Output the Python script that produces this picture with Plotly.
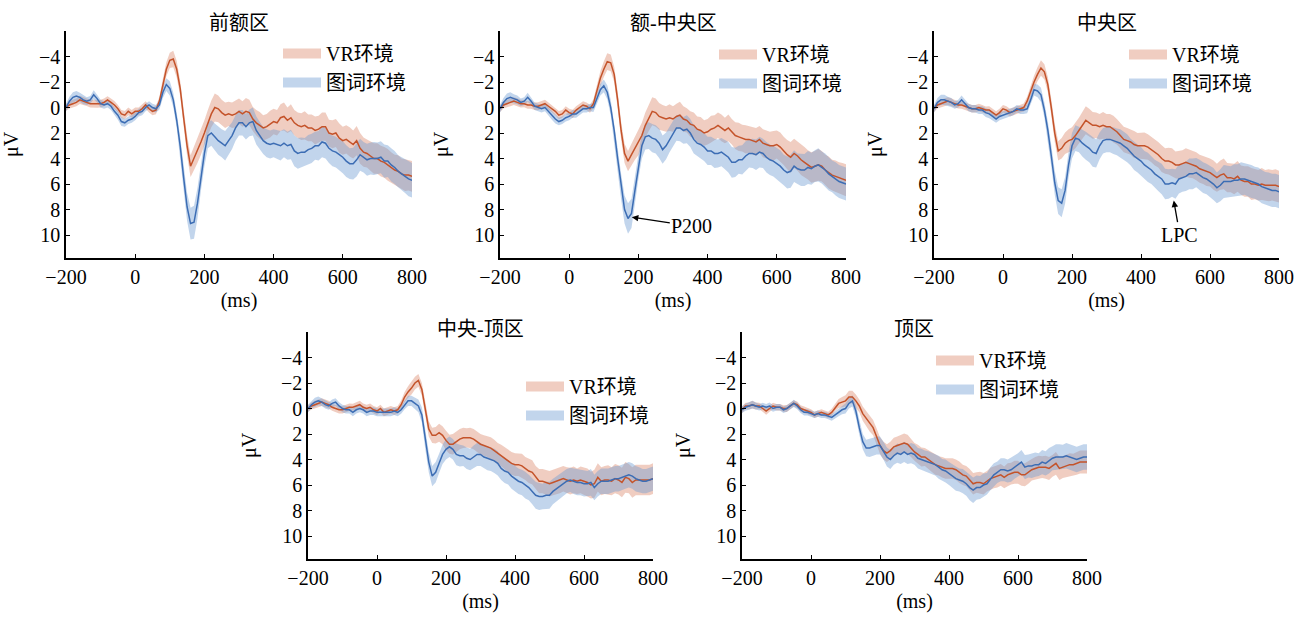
import plotly.graph_objects as go

# ---------------- data ----------------
times = list(range(-200, 801, 10))
panel_titles = ["前额区", "额-中央区", "中央区", "中央-顶区", "顶区"]
series_names = ["VR环境", "图词环境"]
x_ticks = [-200, 0, 200, 400, 600, 800]
y_ticks = [-4, -2, 0, 2, 4, 6, 8, 10]

# 前额区
fp_vr = [0, -0.2, -0.3, -0.4, -0.6, -0.5, -0.4, -0.3, -0.3, -0.3,
         -0.3, -0.4, -0.6, -0.4, -0.2, 0.1, 0.5, 0.6, 0.3, 0.5,
         0.3, 0.3, 0.1, -0.2, 0.1, 0.3, 0.2, -0.5, -1.8, -3.0,
         -3.7, -3.8, -3.0, -1.5, 0.8, 3.0, 4.6, 4.0, 3.4, 2.7,
         2.0, 1.2, 0.5, 0.0, 0.1, 0.4, 0.6, 0.5, 0.6, 0.5,
         0.3, 0.5, 0.3, 0.4, 0.9, 1.2, 1.4, 1.6, 1.5, 1.3,
         1.1, 1.2, 0.8, 0.7, 1.0, 0.8, 1.2, 1.4, 1.5, 1.4,
         1.6, 1.6, 1.8, 1.7, 1.5, 1.5, 2.0, 2.1, 2.0, 2.4,
         2.6, 2.5, 2.7, 2.9, 2.6, 3.2, 3.5, 3.6, 3.8, 4.0,
         4.0, 4.2, 4.3, 4.5, 4.7, 4.9, 5.0, 5.2, 5.3, 5.3,
         5.4]
fp_vr_se = [0.25, 0.28, 0.3, 0.3, 0.32, 0.3, 0.28, 0.3, 0.3, 0.32,
            0.3, 0.3, 0.28, 0.3, 0.32, 0.3, 0.3, 0.32, 0.3, 0.3,
            0.3, 0.3, 0.32, 0.3, 0.3, 0.3, 0.32, 0.35, 0.45, 0.55,
            0.6, 0.65, 0.65, 0.6, 0.7, 0.8, 0.85, 0.9, 0.95, 1.0,
            1.0, 1.0, 1.05, 1.1, 1.05, 1.0, 1.0, 0.95, 1.0, 1.05,
            1.0, 1.0, 1.05, 1.0, 0.95, 1.0, 1.05, 1.0, 1.0, 1.05,
            1.0, 1.0, 1.05, 1.1, 1.0, 1.05, 1.0, 1.0, 1.05, 1.1,
            1.05, 1.05, 1.1, 1.05, 1.1, 1.1, 1.05, 1.1, 1.1, 1.15,
            1.1, 1.1, 1.15, 1.1, 1.15, 1.2, 1.15, 1.1, 1.15, 1.2,
            1.2, 1.2, 1.2, 1.25, 1.2, 1.2, 1.25, 1.2, 1.25, 1.2,
            1.2]
fp_pw = [0, -0.5, -0.8, -0.9, -0.8, -0.6, -0.5, -0.6, -1.0, -0.7,
         -0.3, -0.2, -0.3, -0.1, 0.3, 0.6, 1.1, 1.2, 1.0, 0.9,
         0.7, 0.4, 0.3, 0.0, -0.2, 0.0, 0.1, -0.2, -1.2, -1.8,
         -1.5, -0.6, 1.0, 3.0, 5.5, 7.8, 9.1, 9.0, 7.5, 5.4,
         3.6, 2.2, 2.0, 2.3, 2.6, 2.8, 3.0, 2.6, 2.2, 1.6,
         1.2, 1.2, 1.5, 1.2, 1.1, 1.8, 2.2, 2.6, 2.8, 2.9,
         2.8, 2.9, 3.0, 2.8, 3.0, 2.9, 3.4, 3.6, 3.5, 3.5,
         3.3, 3.2, 3.0, 3.0, 2.7, 2.8, 3.2, 3.4, 3.5, 3.7,
         3.9, 4.2, 4.4, 4.4, 4.1, 3.7, 3.9, 4.1, 4.0, 4.0,
         4.0, 3.9, 4.2, 4.2, 4.5, 4.7, 5.0, 5.2, 5.4, 5.6,
         5.7]
fp_pw_se = [0.3, 0.35, 0.4, 0.4, 0.35, 0.35, 0.3, 0.3, 0.35, 0.3,
            0.3, 0.3, 0.3, 0.3, 0.3, 0.35, 0.35, 0.3, 0.3, 0.3,
            0.3, 0.3, 0.3, 0.3, 0.3, 0.3, 0.3, 0.35, 0.45, 0.5,
            0.55, 0.55, 0.6, 0.7, 0.9, 1.1, 1.25, 1.3, 1.2, 1.1,
            1.0, 1.0, 1.0, 1.05, 1.1, 1.1, 1.15, 1.1, 1.05, 1.0,
            1.0, 1.0, 1.0, 1.05, 1.1, 1.1, 1.1, 1.05, 1.1, 1.1,
            1.1, 1.1, 1.15, 1.1, 1.1, 1.15, 1.2, 1.2, 1.15, 1.1,
            1.15, 1.15, 1.1, 1.15, 1.2, 1.2, 1.15, 1.2, 1.2, 1.2,
            1.25, 1.25, 1.2, 1.25, 1.3, 1.25, 1.2, 1.25, 1.25, 1.3,
            1.25, 1.25, 1.3, 1.25, 1.3, 1.3, 1.25, 1.3, 1.3, 1.35,
            1.35]

# 额-中央区
fc_vr = [0.1, -0.2, -0.3, -0.4, -0.5, -0.4, -0.3, -0.3, -0.2, -0.2,
         -0.1, -0.1, -0.2, -0.3, -0.1, 0.1, 0.3, 0.6, 0.5, 0.2,
         0.4, 0.5, 0.2, 0.0, -0.2, -0.1, 0.1, -0.3, -1.4, -2.3,
         -3.0, -3.6, -3.5, -2.6, -0.6, 1.8, 3.6, 4.2, 3.7, 3.2,
         2.8, 2.2, 1.4, 0.8, 0.3, 0.4, 0.7, 0.8, 0.9, 0.8,
         0.9, 0.7, 0.6, 0.9, 1.0, 1.3, 1.4, 1.7, 1.8, 2.0,
         1.9, 1.7, 1.6, 1.4, 1.6, 1.8, 1.6, 1.9, 2.2, 2.3,
         2.4, 2.5, 2.5, 2.6, 2.7, 2.5, 2.8, 2.9, 3.0, 3.0,
         2.9, 3.1, 3.4, 3.7, 3.9, 3.6, 3.8, 4.1, 4.3, 4.5,
         4.7, 4.6, 4.5, 4.6, 4.9, 5.1, 5.3, 5.4, 5.5, 5.6,
         5.7]
fc_vr_se = [0.25, 0.28, 0.3, 0.3, 0.3, 0.32, 0.3, 0.28, 0.3, 0.3,
            0.3, 0.32, 0.3, 0.3, 0.3, 0.28, 0.3, 0.32, 0.3, 0.3,
            0.3, 0.32, 0.3, 0.3, 0.3, 0.3, 0.32, 0.35, 0.45, 0.55,
            0.6, 0.65, 0.65, 0.6, 0.65, 0.7, 0.75, 0.8, 0.85, 0.9,
            0.95, 1.0, 1.0, 1.05, 1.1, 1.1, 1.05, 1.0, 1.0, 1.05,
            1.0, 1.0, 1.05, 1.0, 0.95, 1.0, 1.0, 1.0, 1.05, 1.0,
            1.0, 1.05, 1.0, 1.0, 1.05, 1.0, 1.05, 1.0, 1.05, 1.1,
            1.05, 1.1, 1.05, 1.1, 1.1, 1.05, 1.1, 1.1, 1.1, 1.15,
            1.1, 1.15, 1.1, 1.15, 1.2, 1.15, 1.15, 1.2, 1.2, 1.15,
            1.2, 1.2, 1.25, 1.2, 1.2, 1.25, 1.2, 1.25, 1.2, 1.25,
            1.25]
fc_pw = [0.1, -0.4, -0.7, -0.8, -0.7, -0.6, -0.4, -0.5, -0.8, -0.5,
         -0.1, 0.0, 0.1, 0.0, 0.3, 0.6, 0.9, 1.1, 1.0, 0.8,
         0.7, 0.5, 0.5, 0.3, 0.1, 0.1, 0.0, 0.0, -0.7, -1.4,
         -1.7, -1.2, 0.0, 1.8, 4.0, 6.2, 8.0, 8.7, 8.3, 6.5,
         4.6, 3.0, 2.3, 2.2, 2.4, 2.5, 2.8, 3.3, 3.0, 2.5,
         2.0, 1.6, 1.6, 1.8, 1.7, 2.0, 2.5, 2.8, 2.9, 3.1,
         3.4, 3.4, 3.6, 3.6, 3.5, 3.7, 3.9, 4.3, 4.3, 4.1,
         4.1, 3.8, 3.6, 3.6, 3.7, 3.5, 3.6, 3.9, 4.1, 4.2,
         4.4, 4.6, 4.9, 5.1, 5.0, 4.6, 4.8, 4.9, 4.9, 4.7,
         4.8, 4.6, 4.5, 4.7, 4.9, 5.2, 5.4, 5.6, 5.8, 5.9,
         6.0]
fc_pw_se = [0.3, 0.35, 0.4, 0.4, 0.35, 0.35, 0.3, 0.3, 0.35, 0.3,
            0.3, 0.3, 0.3, 0.3, 0.3, 0.35, 0.35, 0.3, 0.3, 0.3,
            0.3, 0.3, 0.3, 0.3, 0.3, 0.3, 0.3, 0.35, 0.4, 0.45,
            0.5, 0.55, 0.6, 0.7, 0.85, 1.0, 1.1, 1.2, 1.15, 1.1,
            1.0, 1.0, 1.0, 1.05, 1.1, 1.1, 1.15, 1.1, 1.05, 1.0,
            1.0, 1.0, 1.05, 1.05, 1.1, 1.1, 1.1, 1.05, 1.1, 1.1,
            1.1, 1.1, 1.15, 1.1, 1.1, 1.15, 1.2, 1.2, 1.15, 1.1,
            1.15, 1.15, 1.1, 1.15, 1.2, 1.2, 1.15, 1.2, 1.2, 1.2,
            1.25, 1.25, 1.2, 1.25, 1.3, 1.25, 1.2, 1.25, 1.25, 1.3,
            1.25, 1.25, 1.3, 1.25, 1.3, 1.3, 1.25, 1.3, 1.3, 1.3,
            1.3]

# 中央区
c_vr = [0.1, -0.2, -0.3, -0.4, -0.5, -0.4, -0.3, -0.2, -0.2, -0.1,
        0.0, 0.1, 0.1, 0.0, 0.1, 0.2, 0.2, 0.4, 0.6, 0.4,
        0.1, 0.2, 0.4, 0.3, 0.2, 0.1, 0.0, -0.5, -1.3, -2.0,
        -2.6, -3.1, -2.8, -1.8, 0.0, 2.0, 3.4, 3.2, 2.8, 2.6,
        2.5, 2.2, 1.8, 1.4, 1.0, 1.2, 1.4, 1.4, 1.5, 1.4,
        1.5, 1.5, 1.7, 1.9, 2.2, 2.5, 2.6, 2.7, 2.9, 3.0,
        3.0, 3.0, 3.1, 3.3, 3.5, 3.7, 4.0, 4.2, 4.2, 4.3,
        4.5, 4.5, 4.4, 4.3, 4.4, 4.5, 4.6, 4.8, 4.9, 5.0,
        5.1, 5.3, 5.5, 5.3, 5.2, 5.5, 5.5, 5.6, 5.4, 5.7,
        5.8, 5.8, 6.0, 6.0, 6.1, 6.0, 6.1, 6.1, 6.1, 6.1,
        6.2]
c_vr_se = [0.25, 0.28, 0.3, 0.3, 0.3, 0.32, 0.3, 0.28, 0.3, 0.3,
           0.3, 0.3, 0.3, 0.3, 0.3, 0.28, 0.3, 0.32, 0.3, 0.3,
           0.3, 0.3, 0.3, 0.3, 0.3, 0.3, 0.32, 0.35, 0.45, 0.5,
           0.55, 0.6, 0.6, 0.6, 0.65, 0.7, 0.75, 0.8, 0.85, 0.9,
           0.95, 1.0, 1.0, 1.05, 1.1, 1.1, 1.05, 1.0, 1.0, 1.05,
           1.0, 1.0, 1.05, 1.0, 1.0, 1.0, 1.0, 1.0, 1.05, 1.0,
           1.0, 1.05, 1.0, 1.0, 1.05, 1.0, 1.05, 1.0, 1.05, 1.1,
           1.05, 1.1, 1.05, 1.1, 1.1, 1.05, 1.1, 1.1, 1.1, 1.15,
           1.1, 1.15, 1.1, 1.15, 1.2, 1.15, 1.15, 1.2, 1.2, 1.15,
           1.2, 1.2, 1.25, 1.2, 1.2, 1.25, 1.2, 1.25, 1.2, 1.25,
           1.25]
c_pw = [0.1, -0.4, -0.6, -0.6, -0.5, -0.4, -0.2, -0.3, -0.6, -0.3,
        0.0, 0.1, 0.1, 0.2, 0.2, 0.4, 0.5, 0.7, 0.9, 0.7,
        0.6, 0.5, 0.4, 0.3, 0.1, 0.2, 0.2, 0.1, -0.6, -1.4,
        -1.3, -1.0, 0.2, 1.8, 3.8, 5.9, 7.3, 7.5, 6.5, 4.5,
        3.0, 2.4, 2.5, 2.8, 3.0, 3.2, 3.5, 3.6, 3.0, 2.6,
        2.5, 2.5, 2.6, 2.7, 2.8, 3.0, 3.2, 3.5, 3.8, 4.0,
        4.2, 4.5, 4.7, 4.9, 5.2, 5.4, 5.6, 6.0, 6.0, 5.9,
        6.0, 5.6, 5.5, 5.4, 5.2, 5.2, 5.1, 5.3, 5.5, 5.6,
        5.8, 6.0, 6.3, 6.1, 5.8, 5.8, 5.8, 5.7, 5.7, 5.6,
        5.6, 5.7, 5.8, 5.9, 6.0, 6.2, 6.3, 6.4, 6.5, 6.5,
        6.6]
c_pw_se = [0.3, 0.35, 0.4, 0.4, 0.35, 0.35, 0.3, 0.3, 0.35, 0.3,
           0.3, 0.3, 0.3, 0.3, 0.3, 0.35, 0.35, 0.3, 0.3, 0.3,
           0.3, 0.3, 0.3, 0.3, 0.3, 0.3, 0.3, 0.35, 0.4, 0.45,
           0.5, 0.55, 0.6, 0.7, 0.85, 0.95, 1.05, 1.1, 1.05, 1.0,
           1.0, 1.0, 1.0, 1.05, 1.1, 1.1, 1.15, 1.1, 1.05, 1.0,
           1.0, 1.0, 1.05, 1.05, 1.1, 1.1, 1.1, 1.05, 1.1, 1.1,
           1.1, 1.1, 1.15, 1.1, 1.1, 1.15, 1.2, 1.2, 1.15, 1.1,
           1.15, 1.15, 1.1, 1.15, 1.2, 1.2, 1.15, 1.2, 1.2, 1.2,
           1.25, 1.25, 1.2, 1.25, 1.3, 1.25, 1.2, 1.25, 1.25, 1.3,
           1.25, 1.25, 1.3, 1.25, 1.3, 1.3, 1.25, 1.3, 1.3, 1.3,
           1.3]

# 中央-顶区
cp_vr = [0.0, -0.2, -0.3, -0.4, -0.5, -0.4, -0.3, -0.1, 0.0, 0.1,
         0.1, 0.0, -0.1, -0.1, -0.2, -0.3, -0.1, 0.0, -0.1, 0.1,
         0.2, 0.0, 0.3, 0.2, 0.1, 0.2, 0.1, -0.3, -0.9, -1.3,
         -1.6, -2.0, -2.2, -1.5, 0.0, 1.6, 2.1, 2.1, 1.9, 2.1,
         2.5, 2.8, 2.8, 2.6, 2.4, 2.3, 2.3, 2.3, 2.4, 2.6,
         2.8, 2.9, 3.0, 3.1, 3.3, 3.5, 3.7, 3.9, 4.1, 4.3,
         4.4, 4.4, 4.5, 4.7, 4.9, 5.0, 5.4, 5.7, 5.7, 5.8,
         5.9, 5.8, 5.7, 5.6, 5.5, 5.6, 5.7, 5.6, 5.7, 5.6,
         5.7, 5.8, 6.0, 5.9, 5.4, 5.7, 5.6, 5.6, 5.7, 5.5,
         5.6, 5.8, 5.4, 5.5, 5.8, 5.6, 5.6, 5.6, 5.6, 5.6,
         5.5]
cp_vr_se = [0.25, 0.28, 0.3, 0.3, 0.3, 0.3, 0.3, 0.28, 0.3, 0.3,
            0.3, 0.3, 0.3, 0.28, 0.3, 0.3, 0.3, 0.3, 0.3, 0.3,
            0.3, 0.3, 0.3, 0.3, 0.3, 0.3, 0.3, 0.32, 0.4, 0.45,
            0.5, 0.5, 0.5, 0.5, 0.55, 0.6, 0.6, 0.65, 0.7, 0.7,
            0.75, 0.75, 0.8, 0.8, 0.8, 0.8, 0.75, 0.8, 0.8, 0.8,
            0.8, 0.8, 0.8, 0.85, 0.85, 0.8, 0.85, 0.85, 0.9, 0.9,
            0.9, 0.9, 0.95, 0.9, 0.95, 0.95, 0.9, 0.95, 0.95, 1.0,
            1.0, 1.0, 1.0, 1.05, 1.0, 1.0, 1.05, 1.05, 1.0, 1.05,
            1.05, 1.1, 1.05, 1.1, 1.1, 1.1, 1.1, 1.15, 1.1, 1.15,
            1.15, 1.15, 1.2, 1.15, 1.2, 1.2, 1.2, 1.2, 1.2, 1.2,
            1.2]
cp_pw = [0.0, -0.3, -0.5, -0.6, -0.5, -0.3, -0.2, -0.4, -0.5, -0.2,
         0.0, 0.1, 0.1, 0.3, 0.1, 0.0, 0.1, 0.3, 0.2, 0.2,
         0.3, 0.3, 0.3, 0.3, 0.3, 0.2, 0.3, 0.1, -0.3, -0.6,
         -0.6, -0.4, -0.2, 0.5, 2.5, 4.2, 5.3, 5.0, 4.3, 3.6,
         3.2, 3.0, 3.2, 3.6, 3.7, 3.7, 3.9, 4.0, 3.8, 3.6,
         3.6, 3.8, 3.9, 4.0, 4.1, 4.3, 4.7, 4.9, 5.0, 5.3,
         5.5, 5.7, 5.8, 6.0, 6.2, 6.5, 6.8, 6.9, 6.9, 6.8,
         6.8, 6.5, 6.3, 6.1, 5.9, 5.7, 5.6, 5.7, 5.8, 5.8,
         5.9, 5.9, 5.8, 6.2, 5.9, 5.7, 5.7, 5.7, 5.6, 5.5,
         5.5, 5.4, 5.3, 5.2, 5.3, 5.5, 5.6, 5.7, 5.7, 5.6,
         5.5]
cp_pw_se = [0.3, 0.3, 0.35, 0.35, 0.3, 0.3, 0.3, 0.3, 0.3, 0.3,
            0.3, 0.3, 0.3, 0.3, 0.3, 0.3, 0.3, 0.3, 0.3, 0.3,
            0.3, 0.3, 0.3, 0.3, 0.3, 0.3, 0.3, 0.32, 0.35, 0.4,
            0.4, 0.45, 0.5, 0.6, 0.7, 0.8, 0.8, 0.8, 0.75, 0.75,
            0.8, 0.8, 0.8, 0.85, 0.85, 0.8, 0.85, 0.85, 0.9, 0.9,
            0.9, 0.9, 0.95, 0.9, 0.95, 0.95, 0.9, 0.95, 0.95, 1.0,
            1.0, 1.0, 1.0, 1.05, 1.0, 1.0, 1.05, 1.05, 1.0, 1.05,
            1.05, 1.0, 1.0, 1.0, 0.95, 0.95, 0.95, 1.0, 1.0, 1.0,
            1.0, 1.0, 1.05, 1.0, 1.0, 1.0, 1.0, 1.0, 1.0, 1.0,
            1.0, 1.0, 1.0, 1.0, 1.0, 1.0, 1.0, 0.95, 0.95, 0.95,
            0.95]

# 顶区
p_vr = [0.1, -0.2, -0.2, -0.3, -0.2, -0.2, 0.0, 0.2, 0.0, -0.2,
        -0.1, -0.1, 0.0, 0.0, -0.2, -0.4, -0.3, 0.0, 0.1, 0.2,
        0.3, 0.5, 0.4, 0.3, 0.4, 0.5, 0.3, -0.1, -0.4, -0.5,
        -0.6, -0.9, -0.9, -0.6, -0.2, 0.4, 0.8, 1.2, 1.5, 2.2,
        2.9, 3.3, 3.5, 3.3, 3.0, 2.9, 2.8, 2.7, 2.8, 3.1,
        3.4, 3.6, 3.8, 3.8, 4.0, 4.2, 4.4, 4.5, 4.6, 4.7,
        4.7, 4.7, 4.8, 5.0, 5.2, 5.3, 5.6, 5.9, 5.8, 5.8,
        5.9, 5.7, 5.5, 5.4, 5.3, 5.2, 5.4, 5.2, 5.1, 5.0,
        5.0, 5.2, 5.2, 5.0, 4.8, 4.7, 4.6, 4.6, 4.6, 4.7,
        4.5, 4.3, 4.7, 4.6, 4.5, 4.4, 4.4, 4.3, 4.2, 4.2,
        4.2]
p_vr_se = [0.25, 0.25, 0.28, 0.3, 0.28, 0.25, 0.25, 0.28, 0.25, 0.25,
           0.25, 0.25, 0.25, 0.28, 0.25, 0.25, 0.25, 0.25, 0.25, 0.25,
           0.25, 0.25, 0.25, 0.25, 0.25, 0.25, 0.28, 0.3, 0.35, 0.4,
           0.45, 0.5, 0.5, 0.5, 0.5, 0.55, 0.6, 0.6, 0.6, 0.65,
           0.65, 0.7, 0.7, 0.7, 0.7, 0.7, 0.7, 0.75, 0.75, 0.7,
           0.7, 0.75, 0.75, 0.7, 0.75, 0.75, 0.8, 0.75, 0.8, 0.8,
           0.8, 0.8, 0.8, 0.85, 0.8, 0.8, 0.85, 0.85, 0.8, 0.85,
           0.85, 0.8, 0.85, 0.85, 0.9, 0.85, 0.85, 0.9, 0.85, 0.9,
           0.9, 0.85, 0.9, 0.9, 0.85, 0.9, 0.9, 0.85, 0.9, 0.9,
           0.85, 0.9, 0.9, 0.85, 0.9, 0.9, 0.85, 0.9, 0.9, 0.9,
           0.9]
p_pw = [0.1, -0.1, -0.2, -0.3, -0.2, -0.1, -0.2, -0.1, -0.2, 0.0,
        -0.1, -0.1, 0.1, 0.0, -0.2, -0.4, -0.2, 0.1, 0.3, 0.3,
        0.4, 0.5, 0.4, 0.5, 0.5, 0.6, 0.7, 0.5, 0.3, 0.1,
        0.0, -0.4, -0.6, 0.2, 1.5, 2.6, 3.1, 3.1, 3.0, 2.9,
        2.9, 3.3, 3.8, 4.0, 3.7, 3.5, 3.6, 3.4, 3.6, 3.5,
        3.6, 3.9, 4.0, 4.1, 4.2, 4.3, 4.4, 4.6, 4.8, 4.9,
        5.1, 5.3, 5.5, 5.6, 5.7, 5.9, 6.2, 6.4, 6.2, 6.2,
        6.0, 5.9, 5.5, 5.2, 5.0, 4.8, 4.8, 4.9, 4.8, 4.6,
        4.4, 4.2, 4.6, 4.5, 4.5, 4.4, 4.4, 4.2, 4.3, 4.1,
        3.9, 3.8, 3.8, 3.8, 3.7, 3.8, 3.9, 4.0, 3.9, 3.8,
        3.8]
p_pw_se = [0.25, 0.28, 0.3, 0.3, 0.28, 0.25, 0.25, 0.25, 0.28, 0.25,
           0.25, 0.25, 0.25, 0.25, 0.25, 0.28, 0.25, 0.25, 0.25, 0.25,
           0.25, 0.25, 0.25, 0.25, 0.25, 0.25, 0.25, 0.28, 0.3, 0.35,
           0.4, 0.4, 0.45, 0.5, 0.55, 0.6, 0.65, 0.7, 0.7, 0.7,
           0.7, 0.7, 0.75, 0.75, 0.7, 0.75, 0.75, 0.8, 0.75, 0.8,
           0.8, 0.8, 0.85, 0.8, 0.85, 0.85, 0.85, 0.9, 0.85, 0.9,
           0.9, 0.9, 0.95, 0.9, 0.95, 0.95, 1.0, 1.0, 0.95, 0.9,
           0.9, 0.85, 0.9, 0.9, 0.85, 0.9, 0.9, 0.9, 0.95, 0.9,
           0.9, 0.95, 0.95, 0.9, 0.95, 0.95, 0.9, 0.95, 0.95, 1.0,
           0.95, 1.0, 1.0, 0.95, 1.0, 1.0, 1.0, 1.0, 1.0, 1.0,
           1.0]

panels = [
    (fp_vr, fp_vr_se, fp_pw, fp_pw_se),
    (fc_vr, fc_vr_se, fc_pw, fc_pw_se),
    (c_vr, c_vr_se, c_pw, c_pw_se),
    (cp_vr, cp_vr_se, cp_pw, cp_pw_se),
    (p_vr, p_vr_se, p_pw, p_pw_se),
]

# ---------------- style / layout ----------------
W, H = 1306, 617
line_colors = ["#C4532A", "#3C6DB4"]
band_colors = ["rgba(218,130,100,0.4)", "rgba(110,155,210,0.42)"]
FONT = "Times New Roman, Liberation Serif, Noto Sans CJK SC, serif"
FS = 20

# plot-area boxes in pixels: (left, right, top, bottom)
boxes = [(66, 412, 31, 258), (500, 846, 31, 258), (934, 1279, 31, 258),
         (308, 653, 332, 559), (742, 1087, 332, 559)]
# legend top-left in pixels
legend_pos = [(278, 34), (714, 35), (1124, 35), (521, 367), (931, 341)]
title_shift = [9, 9, 9, 4, 4]

fig = go.Figure()
layout = dict(width=W, height=H, margin=dict(l=0, r=0, t=0, b=0, autoexpand=False),
              paper_bgcolor="white", plot_bgcolor="white",
              font=dict(family=FONT, size=FS, color="black"),
              showlegend=True, annotations=[])

for i, (vr, vr_se, pw, pw_se) in enumerate(panels):
    sfx = "" if i == 0 else str(i + 1)
    xa, ya = "x" + sfx, "y" + sfx
    leg = "legend" + sfx
    for j, (m, se) in enumerate([(vr, vr_se), (pw, pw_se)]):
        upper = [a - b for a, b in zip(m, se)]
        lower = [a + b for a, b in zip(m, se)]
        fig.add_trace(go.Scatter(
            x=times + times[::-1], y=upper + lower[::-1], fill="toself",
            fillcolor=band_colors[j], line=dict(width=0), mode="lines",
            hoverinfo="skip", showlegend=False, xaxis=xa, yaxis=ya))
    for j, m in enumerate([vr, pw]):
        fig.add_trace(go.Scatter(
            x=times, y=m, mode="lines", line=dict(color=line_colors[j], width=1.5),
            showlegend=False, xaxis=xa, yaxis=ya, name=series_names[j]))
    for j in range(2):
        fig.add_trace(go.Scatter(
            x=[None], y=[None], mode="lines", name=series_names[j],
            line=dict(color=band_colors[j], width=12.5),
            legend=leg, xaxis=xa, yaxis=ya, showlegend=True))

    l, r, t, b = boxes[i]
    layout["xaxis" + sfx] = dict(
        domain=[l / W, r / W], anchor=ya, range=[-200, 800], automargin=False,
        tickvals=x_ticks, ticks="inside", ticklen=4, tickwidth=1.2,
        tickcolor="black", showline=True, linecolor="black", linewidth=1.5,
        showgrid=False, zeroline=False, tickfont=dict(size=FS),
        title=dict(text="(ms)", font=dict(size=FS), standoff=6))
    layout["yaxis" + sfx] = dict(
        domain=[1 - b / H, 1 - t / H], anchor=xa, range=[11.8, -6], automargin=False,
        tickvals=y_ticks, ticks="inside", ticklen=4, tickwidth=1.2,
        tickcolor="black", showline=True, linecolor="black", linewidth=1.5,
        showgrid=False, zeroline=False, tickfont=dict(size=FS),
        title=dict(text="μV", font=dict(size=FS), standoff=19))
    lx, ly = legend_pos[i]
    layout[leg] = dict(x=lx / W, y=1 - ly / H, xanchor="left", yanchor="top",
                       bgcolor="rgba(0,0,0,0)", font=dict(size=FS),
                       itemwidth=38, borderwidth=0)
    layout["annotations"].append(dict(
        text=panel_titles[i], xref=xa + " domain", yref=ya + " domain",
        x=0.5, y=1, xanchor="center", yanchor="bottom", yshift=title_shift[i] - 14,
        showarrow=False, font=dict(size=FS)))

layout["annotations"].append(dict(
    text="P200", x=181, y=8.6, xref="x2", yref="y2", showarrow=True,
    arrowhead=2, arrowsize=1, arrowwidth=1.3, arrowcolor="black",
    ax=60, ay=9, font=dict(size=FS)))
layout["annotations"].append(dict(
    text="LPC", x=495, y=7.3, xref="x3", yref="y3", showarrow=True,
    arrowhead=2, arrowsize=1, arrowwidth=1.3, arrowcolor="black",
    ax=6, ay=34, font=dict(size=FS)))

fig.update_layout(**layout)
fig.write_html("out.html", config={"displayModeBar": False},
               post_script="document.body.style.margin='0';document.body.style.overflow='hidden';")
